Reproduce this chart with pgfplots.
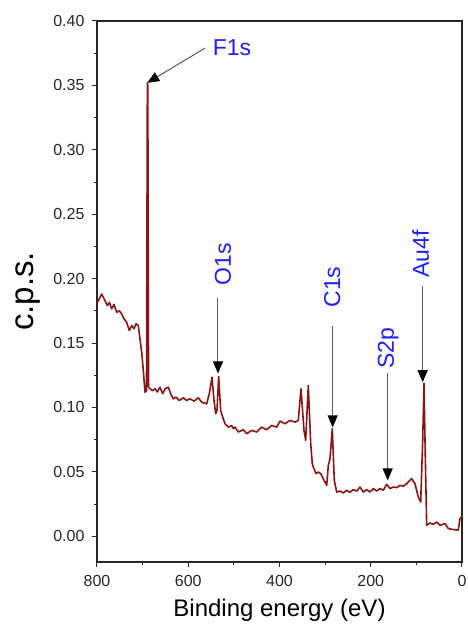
\documentclass[border=0pt]{standalone}
\usepackage{fontspec}
\setmainfont{Liberation Sans}
\usepackage{pgfplots}
\usepackage{pgfplotstable}
\pgfplotsset{compat=1.18}
\usetikzlibrary{arrows.meta}
\definecolor{spec}{HTML}{8B1414}
\definecolor{lab}{HTML}{1E1EFF}
\definecolor{shaft}{HTML}{5C5C5C}

% survey spectrum
\pgfplotstableread{
ev cps
800 0.181
789.7 0.188
782.5 0.183
777.4 0.179
773.0 0.1816
767.8 0.1765
762.7 0.180
756.8 0.1739
751.1 0.175
745.9 0.1726
740.8 0.1688
734.9 0.166
729.2 0.1597
723.9 0.1636
718.9 0.161
714.5 0.1649
709.5 0.1636
705.8 0.1532
702.0 0.1429
698.5 0.1287
694.8 0.1118
691.5 0.113
689.6 0.352
688.6 0.350
687.0 0.116
683.8 0.1145
677.9 0.113
672.9 0.1145
667.8 0.112
661.9 0.1157
656.0 0.1106
651.0 0.1145
643.7 0.1157
638.5 0.1106
632.8 0.1067
626.8 0.108
619.6 0.1054
610.8 0.1075
603.4 0.1054
596.2 0.1067
587.4 0.1049
578.0 0.1075
570.5 0.1041
559.6 0.1028
553.9 0.1106
547.9 0.1235
543.6 0.1054
539.8 0.0951
537.0 0.0977
533.3 0.124
528.9 0.0977
524.5 0.0925
519.5 0.0873
512.2 0.0847
504.8 0.086
501.3 0.0835
497.5 0.0847
490.3 0.0809
479.3 0.0827
471.9 0.0796
460.9 0.0822
449.9 0.0809
439.0 0.0847
428.0 0.0827
417.1 0.086
406.1 0.0847
398.9 0.0894
387.9 0.0873
377.0 0.0899
366.0 0.0886
358.8 0.0899
352.9 0.1145
346.3 0.0822
342.6 0.0744
336.9 0.117
331.6 0.072
328.1 0.0563
325.9 0.0537
320.0 0.0486
315.0 0.0499
309.7 0.0486
304.0 0.0447
296.5 0.0395
293.0 0.055
289.3 0.0602
284.3 0.0835
279.9 0.0434
274.6 0.0343
267.4 0.0351
260.2 0.0336
252.7 0.0357
245.5 0.0341
238.3 0.0362
230.8 0.0351
223.6 0.0382
216.3 0.0343
208.9 0.0362
201.6 0.0343
194.4 0.037
187.0 0.0351
179.7 0.037
172.5 0.0357
165.0 0.0403
157.8 0.037
150.6 0.0382
143.1 0.0378
135.9 0.0395
128.7 0.0388
121.2 0.0408
110.3 0.0447
103.0 0.0408
95.8 0.0305
90.5 0.0266
86.1 0.0744
83.3 0.1188
80.4 0.0615
77.4 0.0085
70.1 0.0103
62.9 0.0093
55.5 0.011
48.2 0.0085
37.3 0.0098
30.0 0.006
19.1 0.0052
8.1 0.0047
4.4 0.0137
0.7 0.015
}\survey

\begin{document}
\begin{tikzpicture}
\begin{axis}[
    scale only axis,
    width=365pt, height=541pt,
    xmin=0, xmax=800, x dir=reverse,
    ymin=-0.02, ymax=0.40,
    xtick={0,200,400,600,800},
    ytick={0,0.05,0.10,0.15,0.20,0.25,0.30,0.35,0.40},
    minor x tick num=1, minor y tick num=1,
    tick align=outside, xtick pos=bottom, ytick pos=left,
    major tick length=5pt, minor tick length=3pt,
    axis line style={line width=1.1pt, black!85},
    every tick/.style={black!85, line width=1pt},
    /pgf/number format/assume math mode=true,
    ticklabel style={font=\fontsize{16}{18}\selectfont, black!85},
    xticklabel style={yshift=-5pt},
    yticklabel style={xshift=-4pt, /pgf/number format/.cd, fixed, fixed zerofill, precision=2},
    xlabel={Binding energy (eV)},
    ylabel={c.p.s.},
    xlabel style={font=\fontsize{24}{28}\selectfont, inner sep=0pt,
        at={(axis description cs:0.5,-0.068)}, anchor=north},
    ylabel style={font=\fontsize{33}{36}\selectfont, inner sep=0pt,
        at={(axis description cs:-0.156,0.5)}, anchor=south},
]
\coordinate (o) at (rel axis cs:0,0);
\addplot[spec, line width=1.6pt, line join=round] table[x=ev, y=cps] {\survey};

\node[lab, font=\fontsize{23}{26}\selectfont] at (axis cs:504,0.379) {F1s};
\draw[shaft, line width=1pt, -{Triangle[length=12pt,width=10pt,color=black]}]
    (axis cs:563,0.379) -- (axis cs:690,0.352);

\node[lab, rotate=90, font=\fontsize{23}{26}\selectfont] at (axis cs:524,0.211) {O1s};
\draw[shaft, line width=1pt, -{Triangle[length=12pt,width=10pt,color=black]}]
    (axis cs:534.8,0.1853) -- (axis cs:534.8,0.1264);

\node[lab, rotate=90, font=\fontsize{23}{26}\selectfont] at (axis cs:284.3,0.1934) {C1s};
\draw[shaft, line width=1pt, -{Triangle[length=12pt,width=10pt,color=black]}]
    (axis cs:283.5,0.1636) -- (axis cs:283.5,0.0845);

\node[lab, rotate=90, font=\fontsize{23}{26}\selectfont] at (axis cs:161.5,0.1461) {S2p};
\draw[shaft, line width=1pt, -{Triangle[length=12pt,width=10pt,color=black]}]
    (axis cs:162.9,0.1264) -- (axis cs:162.9,0.0434);

\node[lab, rotate=90, font=\fontsize{23}{26}\selectfont] at (axis cs:90.6,0.219) {Au4f};
\draw[shaft, line width=1pt, -{Triangle[length=12pt,width=10pt,color=black]}]
    (axis cs:86.2,0.1946) -- (axis cs:86.2,0.1196);
\end{axis}
\pgfresetboundingbox
\path[use as bounding box] ([shift={(-97pt,-62pt)}]o) rectangle ++(467pt,624pt);
\end{tikzpicture}
\end{document}
